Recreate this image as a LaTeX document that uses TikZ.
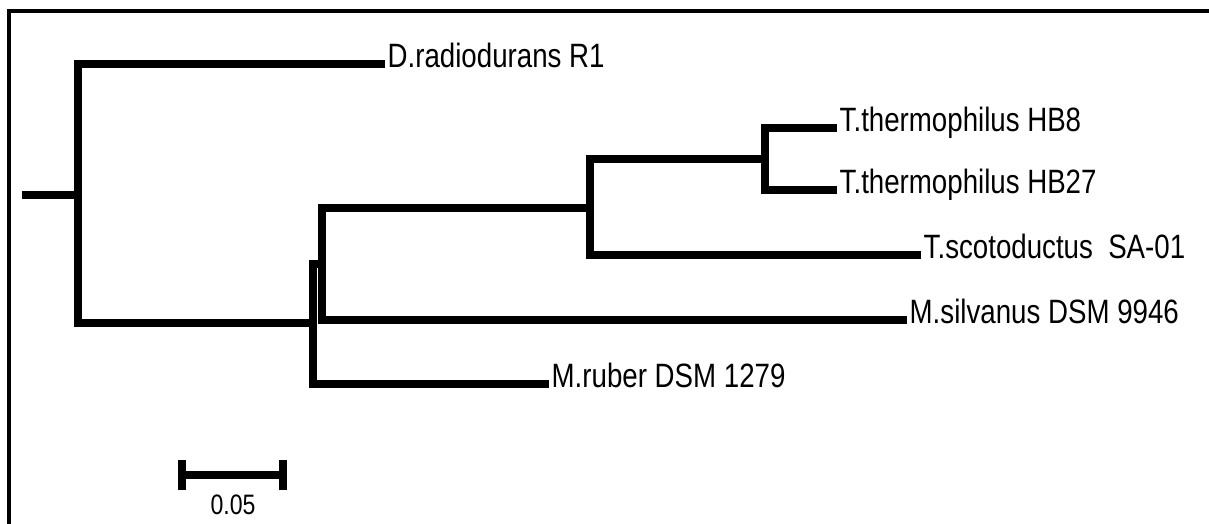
\documentclass[tikz,border=0pt]{standalone}
\usepackage{fontspec}
\setmainfont{Liberation Sans}[FakeStretch=0.82]
\usepackage{tikz}
\usetikzlibrary{positioning,calc}

\begin{document}
\begin{tikzpicture}[
    x=0.025cm, y=-0.025cm,
    branch/.style={line width=0.21cm, black},
    frame/.style={line width=0.08cm, black},
    leaf/.style={anchor=west, inner xsep=0.06cm, inner ysep=0pt, text height=0.72em, text depth=0.2em, font=\fontsize{24}{26}\selectfont},
    scalelabel/.style={font=\fontsize{20}{22}\selectfont, inner sep=0pt}
]
    \useasboundingbox (0,0) rectangle (1209,524);
    \draw[frame] (9,11) rectangle (1260,580);

    % Internal nodes
    \coordinate (start) at (22,195);
    \coordinate (root) at (78,195);
    \coordinate (meio) at (313,323);
    \coordinate (mtherm) at (322,264);
    \coordinate (therm) at (590,208);
    \coordinate (tth) at (765,159);

    % Leaves
    \node[leaf] (drad) at (385,64) {D.radiodurans R1};
    \node[leaf] (hb8) at (837,128) {T.thermophilus HB8};
    \node[leaf] (hb27) at (837,190) {T.thermophilus HB27};
    \node[leaf] (tsco) at (921,255) {T.scotoductus\ \ SA-01};
    \node[leaf] (msil) at (907,320) {M.silvanus DSM 9946};
    \node[leaf] (mrub) at (549,384) {M.ruber DSM 1279};

    % Branches
    \draw[branch] (start) -- (root);
    \draw[branch] (root) |- (drad.west);
    \draw[branch] (root) |- (meio);
    \draw[branch] (meio) |- (mtherm);
    \draw[branch] (meio) |- (mrub.west);
    \draw[branch] (mtherm) |- (therm);
    \draw[branch] (mtherm) |- (msil.west);
    \draw[branch] (therm) |- (tth);
    \draw[branch] (therm) |- (tsco.west);
    \draw[branch] (tth) |- (hb8.west);
    \draw[branch] (tth) |- (hb27.west);

    % Scale bar
    \coordinate (sbl) at (182,475);
    \coordinate (sbr) at (283,475);
    \draw[branch] (sbl) -- (sbr);
    \draw[branch] ($(sbl)+(0,-15)$) -- ($(sbl)+(0,15)$);
    \draw[branch] ($(sbr)+(0,-15)$) -- ($(sbr)+(0,15)$);
    \node[scalelabel] (sblabel) at (233,505) {0.05};
\end{tikzpicture}
\end{document}
